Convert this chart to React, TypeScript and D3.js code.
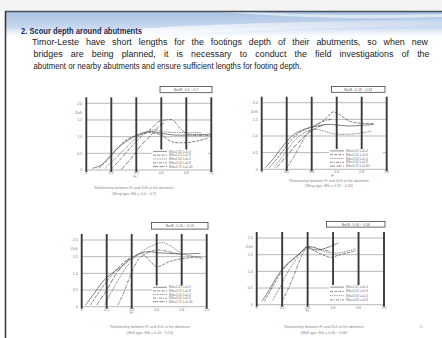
import React, { useMemo } from 'react';
import * as d3 from 'd3';

// ---------- data ----------
const xTicks = [0, 0.2, 0.4, 0.6, 0.8, 1.0];
const xTickLabels = ['0', '0.2', '0.4', '0.6', '0.8', '1.0'];
const yTicks = [0, 0.5, 1.0, 1.5, 2.0];
const yTickLabels = ['0', '0.5', '1.0', '1.5', '2.0'];
const yAxisLabel = 'Zs/h';
const xAxisLabel = 'Fr';

const titleText = '2. Scour depth around abutments';
const bodyLines = [
  'Timor-Leste have short lengths for the footings depth of their abutments, so when new',
  'bridges are being planned, it is necessary to conduct the field investigations of the',
  'abutment or nearby abutments and ensure sufficient lengths for footing depth.',
];

const boxLabels = ['Bw/B : 0.4 ~ 0.7', 'Bw/B : 0.18 ~ 0.33', 'Bw/B : 0.10 ~ 0.13', 'Bw/B : 0.06 ~ 0.08'];

const legendLabels = ['B/b=0.25  L=0.4', 'B/b=0.25  L=0.8', 'B/b=0.50  L=0.4', 'B/b=0.50  L=0.8', 'B/b=0.75  L=0.40'];

const captions: [string, string][] = [
  ['Relationship between Fr and Zs/h at the abutment', '(Wing type, B/b = 0.4 ~ 0.7)'],
  ['Relationship between Fr and Zs/h at the abutment', '(Wing type, B/b = 0.18 ~ 0.33)'],
  ['Relationship between Fr and Zs/h at the abutment', '(Wall type, B/b = 0.10 ~ 0.13)'],
  ['Relationship between Fr and Zs/h at the abutment', '(Wall type, B/b = 0.06 ~ 0.08)'],
];

const chart1Series: [number, number][][] = [
  [[0.05, 0.05], [0.12, 0.15], [0.2, 0.45], [0.28, 0.75], [0.36, 0.95], [0.44, 1.1], [0.52, 1.15], [0.6, 1.1], [0.7, 1.05], [0.85, 1.05], [1.0, 1.08]],
  [[0.1, 0.05], [0.18, 0.35], [0.26, 0.7], [0.34, 0.95], [0.42, 1.05], [0.5, 1.12], [0.6, 1.05], [0.68, 0.85], [0.8, 0.82], [0.9, 0.88], [0.97, 0.95]],
  [[0.15, 0.05], [0.22, 0.3], [0.3, 0.6], [0.38, 0.9], [0.46, 1.1], [0.54, 1.2], [0.6, 1.15], [0.75, 1.12], [0.92, 1.12]],
  [[0.2, 0.02], [0.28, 0.35], [0.36, 0.7], [0.44, 1.0], [0.52, 1.25], [0.58, 1.45], [0.63, 1.5], [0.69, 1.5], [0.75, 1.25], [0.81, 1.08], [0.9, 1.04], [1.0, 1.03]],
  [[0.28, 0.02], [0.36, 0.35], [0.44, 0.75], [0.52, 1.05], [0.58, 1.3], [0.62, 1.4]],
];

const chart2Series: [number, number][][] = [
  [[0.03, 0.05], [0.1, 0.35], [0.18, 0.75], [0.26, 1.05], [0.34, 1.2], [0.44, 1.3], [0.52, 1.35], [0.6, 1.33], [0.7, 1.3], [0.8, 1.32], [0.9, 1.35]],
  [[0.06, 0.05], [0.14, 0.4], [0.22, 0.8], [0.3, 1.1], [0.38, 1.25], [0.46, 1.38], [0.52, 1.55], [0.57, 1.72], [0.62, 1.65], [0.7, 1.45], [0.8, 1.38], [0.9, 1.38]],
  [[0.1, 0.05], [0.18, 0.45], [0.26, 0.85], [0.34, 1.1], [0.42, 1.2], [0.5, 1.15], [0.56, 1.08], [0.66, 1.05], [0.78, 1.08], [0.88, 1.15]],
  [[0.2, 0.03], [0.26, 0.4], [0.32, 0.8], [0.38, 1.15], [0.44, 1.35], [0.5, 1.45], [0.56, 1.5]],
  [[0.12, 0.05], [0.2, 0.4], [0.28, 0.75], [0.36, 1.05], [0.44, 1.25], [0.52, 1.35]],
];

const chart3Series: [number, number][][] = [
  [[0.03, 0.05], [0.1, 0.4], [0.18, 0.8], [0.26, 1.05], [0.32, 1.2], [0.38, 1.4], [0.44, 1.55], [0.52, 1.65], [0.6, 1.62], [0.7, 1.6], [0.8, 1.58], [0.95, 1.6]],
  [[0.07, 0.05], [0.14, 0.45], [0.22, 0.85], [0.3, 1.2], [0.36, 1.4], [0.42, 1.5], [0.48, 1.6], [0.54, 1.4], [0.6, 1.2], [0.7, 1.35], [0.82, 1.45], [0.95, 1.5]],
  [[0.18, 0.05], [0.24, 0.45], [0.3, 0.85], [0.36, 1.2], [0.42, 1.45], [0.48, 1.65], [0.56, 1.82], [0.65, 1.92], [0.72, 1.8], [0.8, 1.6], [0.9, 1.5], [0.97, 1.45]],
  [[0.29, 0.05], [0.34, 0.45], [0.38, 0.85], [0.42, 1.2], [0.46, 1.45], [0.52, 1.6], [0.6, 1.7], [0.7, 1.65], [0.8, 1.55]],
  [[0.12, 0.05], [0.2, 0.5], [0.27, 0.95], [0.33, 1.25], [0.38, 1.45]],
];

const chart4Series: [number, number][][] = [
  [[0.04, 0.1], [0.1, 0.45], [0.16, 0.85], [0.22, 1.15], [0.28, 1.35], [0.34, 1.55], [0.39, 1.72], [0.44, 1.65], [0.5, 1.65], [0.58, 1.75], [0.64, 1.85]],
  [[0.06, 0.1], [0.12, 0.5], [0.18, 0.9], [0.24, 1.2], [0.3, 1.4], [0.36, 1.62], [0.4, 1.75], [0.46, 1.6], [0.52, 1.5], [0.58, 1.42], [0.64, 1.48], [0.78, 1.62]],
  [[0.12, 0.1], [0.18, 0.5], [0.24, 0.95], [0.3, 1.3], [0.36, 1.6], [0.4, 1.72], [0.46, 1.7], [0.54, 1.58], [0.64, 1.55], [0.78, 1.68]],
  [[0.2, 0.1], [0.25, 0.5], [0.3, 0.95], [0.34, 1.35], [0.38, 1.65], [0.42, 1.75], [0.48, 1.68], [0.58, 1.6]],
];

const allSeries = [chart1Series, chart2Series, chart3Series, chart4Series];
const pageNumber = '- 9 -';

// ---------- layout (positions only) ----------
const layouts = [
  { x0: 86.3, x1: 211.3, yT: 103.3, yB: 170, box: [160, 86.5, 52, 6.2], leg: [152, 149.5, 56, 19], cap: [187.5, 193.5], capX: 134, frX: 0.39 },
  { x0: 261.7, x1: 386.7, yT: 102.7, yB: 169.3, box: [331.5, 86.5, 53.5, 5.8], leg: [329, 149, 54, 19], cap: [180.5, 186], capX: 329, frX: 0.57 },
  { x0: 81.7, x1: 206.7, yT: 240, yB: 306.7, box: [151.5, 222.5, 56.5, 6.6], leg: [152, 285.5, 56, 18], cap: [327, 333], capX: 150, frX: 0.4 },
  { x0: 256.7, x1: 384, yT: 238, yB: 304.7, box: [326.5, 221.5, 58.5, 5.6], leg: [329, 285, 54, 17], cap: [326.5, 333], capX: 324, frX: 0.4 },
];

const bodyLayout = { x: [32, 33.5, 33.5], y0: 45, dy: 11.8, widths: [396, 396, 268], justify: [true, true, false], fontSize: 9.3 };

const dashes = ['', '3,1.2', '1,0.8', '3,1,1,1', '5,1.5'];
const FONT = 'Liberation Sans, Arial, sans-serif';

function Chart({ idx }: { idx: number }) {
  const L = layouts[idx];
  const series = allSeries[idx];
  const x = d3.scaleLinear().domain([0, 1]).range([L.x0, L.x1]);
  const y = d3.scaleLinear().domain([0, 2]).range([L.yB, L.yT]);
  const line = d3
    .line<[number, number]>()
    .x((d) => x(d[0]))
    .y((d) => y(d[1]))
    .curve(d3.curveCatmullRom.alpha(0.5));
  const [lx, ly, lw, lh] = L.leg;
  const [bx, by, bw, bh] = L.box;
  const rowH = lh / series.length;
  return (
    <g>
      {yTicks.map((t) => (
        <line key={'h' + t} x1={x(0)} x2={x(1)} y1={y(t)} y2={y(t)} stroke="#9a9a9a" strokeWidth={0.7} />
      ))}
      {series.map((s, i) => (
        <path key={'s' + i} d={line(s) || ''} fill="none" stroke="#5e5e5e" strokeWidth={0.8} strokeDasharray={dashes[i]} />
      ))}
      <rect x={lx} y={ly} width={lw} height={lh} fill="#fff" />
      {series.map((_, i) => (
        <g key={'l' + i}>
          <line x1={lx + 1} x2={lx + 15} y1={ly + rowH * (i + 0.5)} y2={ly + rowH * (i + 0.5)} stroke="#5e5e5e" strokeWidth={0.7} strokeDasharray={dashes[i]} />
          <text x={lx + 17} y={ly + rowH * (i + 0.5) + 1.1} fontSize={3.2} fill="#777" fontFamily={FONT}>
            {legendLabels[i]}
          </text>
        </g>
      ))}
      {xTicks.map((t, i) => {
        const inner = i === 3 || i === 4;
        return (
          <line key={'v' + t} x1={x(t)} x2={x(t)} y1={L.yT - 6} y2={inner ? ly : L.yB + 2} stroke="#3a3a3a" strokeWidth={1.9} />
        );
      })}
      {yTicks.map((t, i) => (
        <text key={'yl' + t} x={x(0) - 4} y={y(t) + 1.2} fontSize={3.6} fill="#777" textAnchor="end" fontFamily={FONT}>
          {yTickLabels[i]}
        </text>
      ))}
      <text x={x(0) - 4} y={(y(2) + y(1.5)) / 2 + 2} fontSize={3.6} fill="#777" textAnchor="end" fontFamily={FONT}>
        {yAxisLabel}
      </text>
      {xTicks.map((t, i) => (
        <text key={'xl' + t} x={x(t)} y={L.yB + 4} fontSize={3.4} fill="#777" textAnchor="middle" fontFamily={FONT}>
          {xTickLabels[i]}
        </text>
      ))}
      <text x={x(L.frX)} y={L.yB + 7.5} fontSize={3.4} fill="#777" textAnchor="middle" fontFamily={FONT}>
        {xAxisLabel}
      </text>
      <rect x={bx} y={by} width={bw} height={bh} fill="#fff" stroke="#444" strokeWidth={0.8} />
      <text x={bx + bw / 2} y={by + bh / 2 + 1.2} fontSize={3.4} fill="#666" textAnchor="middle" fontFamily={FONT}>
        {boxLabels[idx]}
      </text>
      <text x={L.capX} y={L.cap[0] + 1.2} fontSize={3.6} fill="#888" textAnchor="middle" fontFamily={FONT}>
        {captions[idx][0]}
      </text>
      <text x={L.capX} y={L.cap[1] + 1.2} fontSize={3.6} fill="#888" textAnchor="middle" fontFamily={FONT}>
        {captions[idx][1]}
      </text>
    </g>
  );
}

function useBodyLayout() {
  return useMemo(() => {
    const fs = bodyLayout.fontSize;
    let measure = (s: string) => s.length * fs * 0.48;
    try {
      const ctx = document.createElement('canvas').getContext('2d');
      if (ctx) {
        ctx.font = `${fs}px "Liberation Sans", Arial, sans-serif`;
        measure = (s: string) => ctx.measureText(s).width;
      }
    } catch (e) {
      /* fallback */
    }
    const lastIdx = bodyLines.length - 1;
    const sxLast = bodyLayout.widths[lastIdx] / measure(bodyLines[lastIdx]);
    return bodyLines.map((line, i) => {
      const sx = bodyLayout.justify[i] ? Math.min(1, sxLast * 1.14) : sxLast;
      const words = line.split(' ');
      const ws = words.map(measure);
      const spaceW = measure(' ');
      const total = ws.reduce((a, b) => a + b, 0);
      const target = bodyLayout.widths[i] / sx;
      const gap = bodyLayout.justify[i] ? (target - total) / (words.length - 1) : spaceW;
      let cx = 0;
      const items = words.map((w, k) => {
        const item = { w, x: cx };
        cx += ws[k] + gap;
        return item;
      });
      return { items, sx };
    });
  }, []);
}

export default function App() {
  const body = useBodyLayout();
  return (
    <svg width={442} height={338} viewBox="0 0 442 338" style={{ position: 'fixed', left: 0, top: 0, background: '#fff' }}>
      <defs>
        <linearGradient id="band" x1="0" y1="0" x2="0" y2="1">
          <stop offset="0" stopColor="#a9c2e2" />
          <stop offset="0.55" stopColor="#c8d8ee" />
          <stop offset="1" stopColor="#ffffff" stopOpacity={0} />
        </linearGradient>
        <linearGradient id="swoosh" x1="0" y1="0" x2="1" y2="0">
          <stop offset="0" stopColor="#ffffff" stopOpacity={0.9} />
          <stop offset="0.5" stopColor="#ffffff" stopOpacity={0.6} />
          <stop offset="1" stopColor="#ffffff" stopOpacity={0.2} />
        </linearGradient>
      </defs>
      <rect x={0} y={0} width={442} height={338} fill="#fff" />
      <rect x={0} y={0} width={442} height={11} fill="#f3f3f3" />
      <rect x={5} y={12} width={437} height={28} fill="url(#band)" />
      <path d="M5,44 C80,30 200,22 442,20 L442,26 C260,28 120,36 5,48 Z" fill="url(#swoosh)" />
      <path d="M220,12 C280,16 330,20 442,17 L442,14 C340,16 290,14 250,12 Z" fill="#ffffff" opacity={0.55} />
      <line x1={5} x2={442} y1={11.5} y2={11.5} stroke="#4a4f5a" strokeWidth={1.6} />
      <line x1={5.5} x2={5.5} y1={11} y2={338} stroke="#3c3c3c" strokeWidth={1.6} />
      <text x={21} y={33.5} fontSize={9} fontWeight="bold" fill="#1e2a50" fontFamily={FONT} textLength={121} lengthAdjust="spacingAndGlyphs">
        {titleText}
      </text>
      {body.map((ln, i) => (
        <g key={i} transform={`translate(${bodyLayout.x[i]},${bodyLayout.y0 + i * bodyLayout.dy}) scale(${ln.sx},1)`}>
          {ln.items.map((it, k) => (
            <text key={k} x={it.x} y={0} fontSize={bodyLayout.fontSize} fill="#222" fontFamily={FONT}>
              {it.w}
            </text>
          ))}
        </g>
      ))}
      {[0, 1, 2, 3].map((i) => (
        <Chart key={i} idx={i} />
      ))}
      <text x={421} y={328} fontSize={3.6} fill="#888" textAnchor="middle" fontFamily={FONT}>
        {pageNumber}
      </text>
    </svg>
  );
}
